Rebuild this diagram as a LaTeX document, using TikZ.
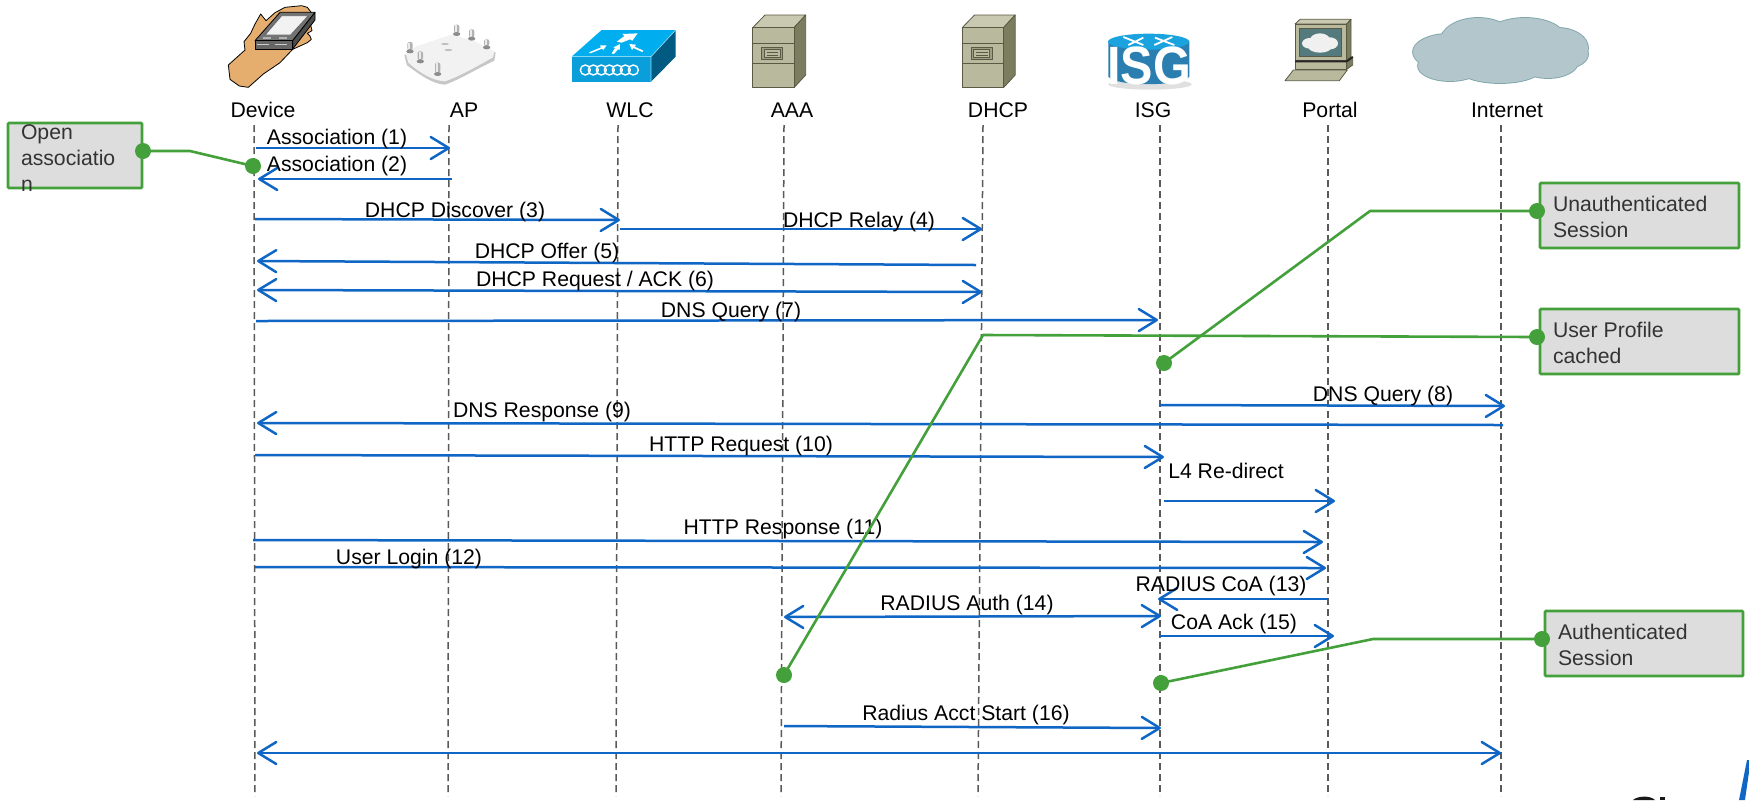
\documentclass[tikz,border=0pt]{standalone}
\usepackage{fontspec}
\setmainfont{Liberation Sans}
\usetikzlibrary{arrows.meta}
\definecolor{msgblue}{HTML}{0F66C4}
\definecolor{callgreen}{HTML}{43A03A}
\definecolor{boxgray}{HTML}{DDDDDD}
\definecolor{srvfront}{HTML}{B9B99D}
\definecolor{srvtop}{HTML}{C9C9B2}
\definecolor{srvside}{HTML}{7C7C5E}
\definecolor{srvline}{HTML}{5A5A44}
\definecolor{handtan}{HTML}{E5AE6E}
\definecolor{wlctop}{HTML}{00AEEF}
\definecolor{wlcside}{HTML}{005A82}
\definecolor{wlcfront}{HTML}{0A9FDB}
\definecolor{isgbody}{HTML}{2A7FB0}
\definecolor{isgtop}{HTML}{1BA3E0}
\definecolor{screenteal}{HTML}{547A7D}
\definecolor{cloudedge}{HTML}{7FA5AB}
\definecolor{cloudfill}{HTML}{B2C6CB}
\tikzset{
  lifeline/.style={draw=black!65,line width=.75pt,dash pattern=on 3.5pt off 2pt},
  tipbarb/.tip={Straight Barb[length=9pt,width=11pt,line width=1.25pt,round]},
  msgr/.style={draw=msgblue,line width=1.25pt,-{tipbarb}},
  msgb/.style={draw=msgblue,line width=1.25pt,{tipbarb}-{tipbarb}},
  lbl/.style={font=\fontsize{10.6}{13}\selectfont,text=black,inner sep=0pt,text height=8pt,text depth=2.5pt,yshift=-1.3pt},
  callbox/.style={draw=callgreen,line width=1.4pt,fill=boxgray,rounded corners=.5pt,inner sep=0pt,
    font=\fontsize{10.6}{13}\selectfont,text=black!80},
  calldot/.style={circle,fill=callgreen,inner sep=0pt,minimum size=8pt},
  callline/.style={draw=callgreen,line width=1.3pt,line join=round},
  icon/.style={line width=.4pt,line join=round}
}
\newcommand\msgline[6]{%
  \coordinate (#1-a) at (#2);\coordinate (#1-b) at (#3);
  \draw[#4] (#1-a) -- (#1-b);
  \node[lbl] (#1-l) at (#6) {#5};}
\newcommand\lifeln[3]{%
  \coordinate (#1-top) at (#2);\coordinate (#1-bot) at (#3);
  \draw[lifeline] (#1-top) -- (#1-bot);}
\newcommand\calltext[3]{\smash{\raisebox{#1}{\parbox[c]{#2}{\raggedright #3}}}}
% a server cabinet, drawn in zoomed-in coordinates
\newcommand\servericon[1]{%
 \begin{scope}[shift={(#1,5)},x=.16667pt,y=-.16667pt,icon,draw=srvline]
  \filldraw[fill=srvtop] (38,68)--(75,30)--(197,30)--(162,68)--cycle;
  \filldraw[fill=srvside] (162,68)--(197,30)--(197,210)--(162,248)--cycle;
  \filldraw[fill=srvfront] (38,68) rectangle (162,248);
  \draw (38,115)--(162,115) (38,175)--(162,175);
  \filldraw[fill=srvfront!85!black] (65,128) rectangle (128,163);
  \filldraw[fill=srvfront] (72,134) rectangle (121,157);
  \draw (80,142)--(114,142) (80,150)--(114,150);
 \end{scope}}
\begin{document}
\begin{tikzpicture}[x=.5pt,y=-.5pt]
\useasboundingbox (0,0) rectangle (1749,800);
% ---------- lifelines
\lifeln{ldev}{254,125}{255,796}
\lifeln{lap}{449,125}{448,796}
\lifeln{lwlc}{618,125}{616,796}
\lifeln{laaa}{784,125}{781,796}
\lifeln{ldhcp}{983,125}{978,796}
\lifeln{lisg}{1160,125}{1160,796}
\lifeln{lpor}{1328,125}{1328,796}
\lifeln{lint}{1501,125}{1501,796}
% ---------- actor labels
\node[lbl] (nDevice) at (263,109) {Device};
\node[lbl] (nAP) at (464,109) {AP};
\node[lbl] (nWLC) at (630,109) {WLC};
\node[lbl] (nAAA) at (792,109) {AAA};
\node[lbl] (nDHCP) at (998,109) {DHCP};
\node[lbl] (nISG) at (1153,109) {ISG};
\node[lbl] (nPortal) at (1330,109) {Portal};
\node[lbl] (nInternet) at (1507,109) {Internet};
% ---------- hand with device
\begin{scope}[shift={(220,0)},x=.16667pt,y=-.16667pt,icon]
 \filldraw[fill=handtan,draw=black] (85,262)--(130,222)--(180,188)--(218,148)--(262,128)--(274,118)--(270,108)--(262,100)--(276,92)--(272,75)--(282,48)--(262,22)--(245,17)--(195,22)--(165,38)--(138,62)--(122,42)--(105,72)--(92,100)--(72,125)--(75,150)--(25,195)--(30,238)--(58,258)--cycle;
 \filldraw[fill=black!55,draw=black] (105,122)--(180,37)--(285,37)--(218,122)--cycle;
 \filldraw[fill=black!70,draw=black] (218,122)--(285,37)--(285,60)--(218,147)--cycle;
 \filldraw[fill=black!60,draw=black] (105,122) rectangle (218,147);
 \filldraw[fill=black!5,draw=black!60] (135,105)--(185,47)--(265,47)--(212,105)--cycle;
 \draw[black!20,dash pattern=on 6pt off 3pt,line width=.6pt] (110,133)--(212,133);
 \draw[black!30,dash pattern=on 4pt off 4pt,line width=.6pt] (130,114)--(215,114);
\end{scope}
% ---------- access point
\begin{scope}[shift={(395,20)},x=.16667pt,y=-.16667pt]
 \fill[black!22] (28,106)--(62,84)--(170,48)--(240,68)--(302,98)--(298,122) .. controls (230,155) and (190,180) .. (150,194) .. controls (110,192) and (70,160) .. (36,136)--cycle;
 \fill[black!5] (32,100)--(62,80)--(170,44)--(240,64)--(298,94)--(294,112) .. controls (230,148) and (190,170) .. (150,184) .. controls (110,182) and (70,155) .. (40,128)--cycle;
 \foreach \ax/\ay/\al in {185/38/24,230/52/24,275/78/20,45/90/24,76/120/26,128/158/30}{
  \fill[black!30,rounded corners=1pt] (\ax-8,\ay-\al) rectangle (\ax+8,\ay);
  \fill[black!8] (\ax-5,\ay-\al+2) rectangle (\ax+1,\ay-2);
  \fill[black!45] (\ax,\ay+4) ellipse (11 and 6);
 }
 \fill[black!25] (150,72) ellipse (12 and 3) (160,90) ellipse (12 and 3);
\end{scope}
% ---------- WLC
\begin{scope}[shift={(565,20)},x=.16667pt,y=-.16667pt,line join=round]
 \fill[fill=wlctop] (20,110)--(110,30)--(332,30)--(258,110)--cycle;
 \fill[fill=wlcside] (258,110)--(332,30)--(332,110)--(258,185)--cycle;
 \fill[fill=wlcfront] (20,110) rectangle (258,185);
 \draw[white!60!wlctop,line width=.3pt] (20,110)--(258,110)--(332,30) (258,110)--(258,185);
 \fill[white] (155,65)--(178,48)--(172,42)--(218,40)--(202,62)--(195,58)--(170,68)--cycle;
 \fill[white] (72,97)--(108,82)--(105,76)--(125,76)--(115,90)--(111,86)--(76,100)--cycle;
 \fill[white] (140,100)--(150,84)--(145,82)--(165,72)--(164,90)--(159,88)--(147,102)--cycle;
 \fill[white] (232,96)--(205,84)--(201,90)--(193,72)--(213,74)--(209,80)--(235,92)--cycle;
 \foreach \cx in {61,85,109,133,157,181,205}{\draw[white,line width=.7pt] (\cx,150) ellipse (15 and 15);}
\end{scope}
% ---------- servers
\servericon{740}
\servericon{949.5}
% ---------- ISG
\begin{scope}[shift={(1095,25)},x=.16667pt,y=-.16667pt]
 \fill[black!12] (165,178) ellipse (125 and 16);
 \fill[isgbody] (40,50)--(40,155) .. controls (60,185) and (260,185) .. (283,155)--(283,50)--cycle;
 \fill[isgtop] (161,50) ellipse (122 and 24);
 \draw[white,line width=.9pt] (85,36)--(145,60) (100,60)--(145,38) (178,60)--(232,36) (180,38)--(238,60);
 \node[inner sep=0pt,text=white,font=\fontsize{27}{27}\selectfont\bfseries,xscale=.9] (tISG) at (162,122) {ISG};
\end{scope}
% ---------- portal
\begin{scope}[shift={(1270,10)},x=.16667pt,y=-.16667pt,icon,draw=srvline]
 \filldraw[fill=srvside] (230,152)--(248,140)--(248,165)--(230,178)--cycle;
 \filldraw[fill=srvfront] (75,155) rectangle (230,178);
 \filldraw[fill=srvfront] (70,180)--(232,180)--(208,212)--(45,212)--cycle;
 \filldraw[fill=srvtop] (75,42)--(90,28)--(243,28)--(230,42)--cycle;
 \filldraw[fill=srvside] (230,42)--(243,28)--(243,140)--(230,152)--cycle;
 \filldraw[fill=srvfront] (75,42) rectangle (230,152);
 \filldraw[fill=screenteal] (88,55) rectangle (215,140);
 \fill[black!6] (120,100) ellipse (24 and 16) (150,90) ellipse (30 and 20) (180,100) ellipse (24 and 18) (150,110) ellipse (36 and 18);
 \draw[line width=1pt,black!85] (75,154)--(230,154)--(248,141);
\end{scope}
% ---------- cloud
\begin{scope}
 \def\cloudparts{(1448,52) ellipse (35 and 18) (1478,42) ellipse (38 and 24) (1525,38) ellipse (40 and 20) (1558,48) ellipse (30 and 20) (1566,54) ellipse (22 and 14) (1450,66) ellipse (32 and 15) (1500,68) ellipse (42 and 15) (1548,62) ellipse (30 and 16) (1500,52) ellipse (70 and 20)}
 \draw[cloudedge,line width=.9pt] \cloudparts;
 \fill[cloudfill] \cloudparts;
\end{scope}
% ---------- messages
\msgline{m1}{256,148}{450,148}{msgr}{Association (1)}{337,136}
\msgline{m2}{452,179}{258,179}{msgr}{Association (2)}{337,163}
\msgline{m3}{255,219}{620,220}{msgr}{DHCP Discover (3)}{455,209}
\msgline{m4}{620,229}{982,229}{msgr}{DHCP Relay (4)}{859,219}
\msgline{m5}{976,265}{257,261}{msgr}{DHCP Offer (5)}{547,250}
\msgline{m6}{257,290}{982,292}{msgb}{DHCP Request / ACK (6)}{595,278}
\msgline{m7}{256,321}{1158,320}{msgr}{DNS Query (7)}{731,309}
\msgline{m8}{1160,405}{1505,406}{msgr}{DNS Query (8)}{1383,393}
\msgline{m9}{1503,425}{257,423}{msgr}{DNS Response (9)}{542,409}
\msgline{m10}{255,455}{1164,457}{msgr}{HTTP Request (10)}{741,443}
\msgline{mL4}{1164,501}{1335,501}{msgr}{L4 Re-direct}{1226,470}
\msgline{m11}{253,540}{1323,542}{msgr}{HTTP Response (11)}{783,526}
\msgline{m12}{255,567}{1326,568}{msgr}{User Login (12)}{409,556}
\msgline{m13}{1328,599}{1158,599}{msgr}{RADIUS CoA (13)}{1221,583}
\msgline{m14}{784,617}{1161,616}{msgb}{RADIUS Auth (14)}{967,602}
\msgline{m15}{1160,636}{1334,636}{msgr}{CoA Ack (15)}{1234,621}
\msgline{m16}{784,726}{1161,728}{msgr}{Radius Acct Start (16)}{966,712}
\coordinate (m17-a) at (257,753);\coordinate (m17-b) at (1501,753);
\draw[msgb] (m17-a) -- (m17-b);
% ---------- callouts
\node[callbox,minimum width=67pt,minimum height=32.5pt] (bOpen) at (75,155.5)
  {\calltext{-4pt}{54pt}{Open\\associatio\\n}};
\node[callbox,minimum width=99.5pt,minimum height=32.5pt] (bUnauth) at (1639.5,215.5)
  {\calltext{-3.5pt}{86.5pt}{Unauthenticated\\Session}};
\node[callbox,minimum width=99.5pt,minimum height=32.5pt] (bProfile) at (1639.5,341.5)
  {\calltext{-3.5pt}{86.5pt}{User Profile\\cached}};
\node[callbox,minimum width=99pt,minimum height=32.5pt] (bAuth) at (1644,643.5)
  {\calltext{-3.5pt}{86pt}{Authenticated\\Session}};
\node[calldot] (dOpenA) at (143,151) {};
\node[calldot] (dOpenB) at (253,166) {};
\node[calldot] (dUnA) at (1537,211) {};
\node[calldot] (dUnB) at (1164,363) {};
\node[calldot] (dPrA) at (1537,337) {};
\node[calldot] (dPrB) at (784,675) {};
\node[calldot] (dAuA) at (1542,639) {};
\node[calldot] (dAuB) at (1161,683) {};
\coordinate (cOpen) at (190,151);
\coordinate (cUn) at (1370,211);
\coordinate (cPr) at (983,335);
\coordinate (cAu) at (1373,639);
\draw[callline] (dOpenA.center) -- (cOpen) -- (dOpenB.center);
\draw[callline] (dUnA.center) -- (cUn) -- (dUnB.center);
\draw[callline] (dPrA.center) -- (cPr) -- (dPrB.center);
\draw[callline] (dAuA.center) -- (cAu) -- (dAuB.center);
% ---------- cut-off logo at the bottom right
\fill[black!90] (1633,800) .. controls (1637,796) and (1650,795) .. (1655,800) -- cycle;
\fill[black!90] (1660,800) -- (1660,797) -- (1665,797) -- (1665,800) -- cycle;
\fill[msgblue] (1739,800) -- (1747,760) -- (1749,760) -- (1749,772) -- (1745,800) -- cycle;
\end{tikzpicture}
\end{document}
